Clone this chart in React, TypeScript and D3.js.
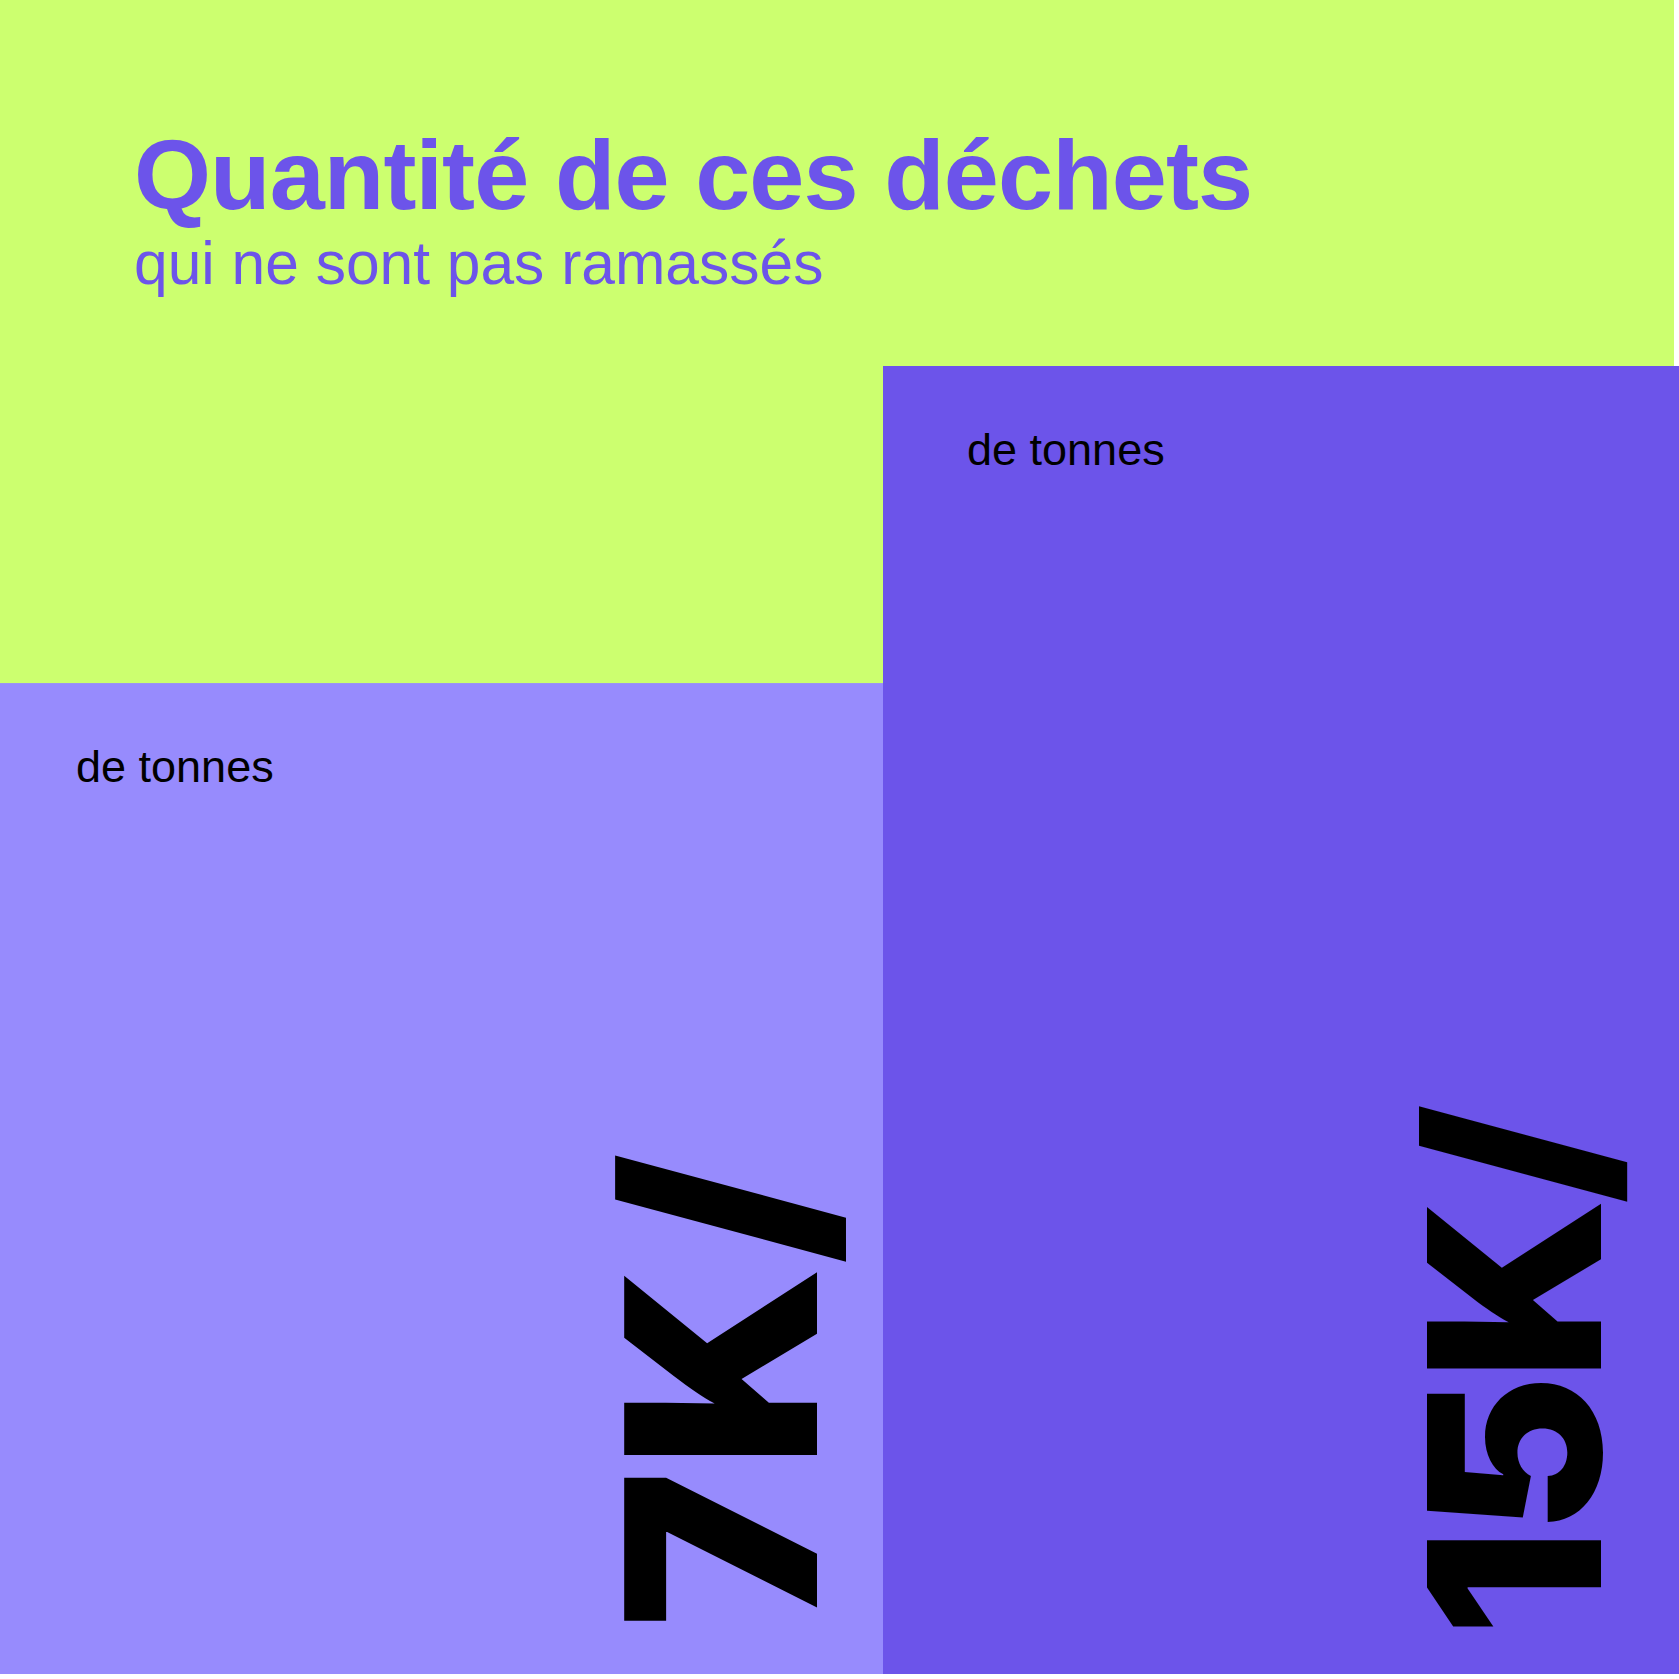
import React from 'react';
import * as d3 from 'd3';

const categories = ['ramassés', 'non ramassés'];
const values = [7, 15];
const valueLabels = ['7K/', '15K/'];
const unitLabels = ['de tonnes', 'de tonnes'];
const title = 'Quantité de ces déchets';
const subtitle = 'qui ne sont pas ramassés';

const W = 1679;
const H = 1679;
const plotRight = 1674;
const plotBottom = 1674;

const lime = '#CCFF6F';
const barColors = ['#978BFD', '#6C54EA'];
const titleColor = '#6C54EA';
const sans = '"Liberation Sans", Arial, sans-serif';

const App = () => {
  const x = d3.scaleBand<string>().domain(categories).range([0, 1766]).padding(0);
  // bars don't start at zero in the design, so the scale floor sits below 0
  const y = d3.scaleLinear().domain([-18, 15]).range([plotBottom, 366]);

  const numSize = [265, 239];
  const numRightGap = [66, 78];
  const numSpacing = [3, -5];
  const numBottomGap = [46, 37];

  return (
    <svg
      width={W}
      height={H}
      style={{ position: 'absolute', left: 0, top: 0, display: 'block' }}
    >
      <rect x={0} y={0} width={W} height={H} fill="#fff" />
      <rect x={0} y={0} width={plotRight} height={plotBottom} fill={lime} />

      <text
        x={134}
        y={209}
        fill={titleColor}
        fontFamily={sans}
        fontWeight={700}
        fontSize={99}
        textLength={1119}
        lengthAdjust="spacing"
      >
        {title}
      </text>
      <text x={134} y={284} fill={titleColor} fontFamily={sans} fontWeight={400} fontSize={60.5}>
        {subtitle}
      </text>

      {categories.map((c, i) => {
        const x0 = x(c) as number;
        const top = y(values[i]);
        const visRight = Math.min(x0 + x.bandwidth(), W);
        return (
          <g key={c}>
            <rect x={x0} y={top} width={x.bandwidth()} height={plotBottom - top} fill={barColors[i]} />
            <text x={x0 + 76 + i * 8} y={top + 99} fontFamily={sans} fontSize={45} fill="#000">
              {unitLabels[i]}
            </text>
            <text
              transform={`translate(${visRight - numRightGap[i]},${plotBottom - numBottomGap[i]}) rotate(-90)`}
              fontFamily="Inter"
              fontWeight={900}
              fontSize={numSize[i]}
              letterSpacing={numSpacing[i]}
              fill="#000"
            >
              {valueLabels[i]}
            </text>
          </g>
        );
      })}
    </svg>
  );
};

export default App;
